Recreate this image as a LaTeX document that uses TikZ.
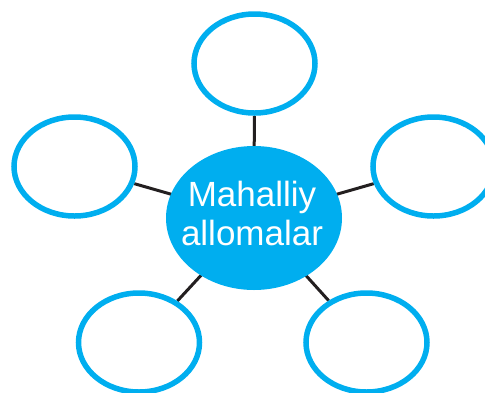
\documentclass[tikz,border=0pt]{standalone}
\usepackage{fontspec}
\setmainfont{Liberation Sans}
\usetikzlibrary{shapes.geometric,backgrounds}
\definecolor{cyanp}{HTML}{00AEEF}
\definecolor{ink}{HTML}{231F20}
\tikzset{
  outer/.style={ellipse, draw=cyanp, line width=5.5pt, inner sep=0pt, minimum width=121pt, minimum height=99pt},
  hub/.style={ellipse, fill=cyanp, inner sep=0pt, minimum width=176pt, minimum height=144pt},
  link/.style={draw=ink, line width=3pt},
  label/.style={text=white, font=\fontsize{35}{38.6}\selectfont, inner sep=0pt, anchor=base}
}
\begin{document}
\begin{tikzpicture}[x=1pt,y=-1pt]
\useasboundingbox (0,0) rectangle (485,392);
\clip (0,0) rectangle (485,392);
\node[hub] (c) at (254,218) {};
\node[outer] (top) at (254.5,63.5) {};
\node[outer] (left) at (74.5,166.5) {};
\node[outer] (right) at (433.5,166.5) {};
\node[outer] (bl) at (139,342.5) {};
\node[outer] (br) at (366.5,342.5) {};
\begin{scope}[on background layer]
\draw[link] (c.center) -- (top);
\draw[link] (c.center) -- (left);
\draw[link] (c.center) -- (right);
\draw[link] (c.center) -- (bl);
\draw[link] (c.center) -- (br);
\end{scope}
\node[label] (t1) at (252,206.7) {Mahalliy};
\node[label] (t2) at (252,245.3) {allomalar};
\end{tikzpicture}
\end{document}
